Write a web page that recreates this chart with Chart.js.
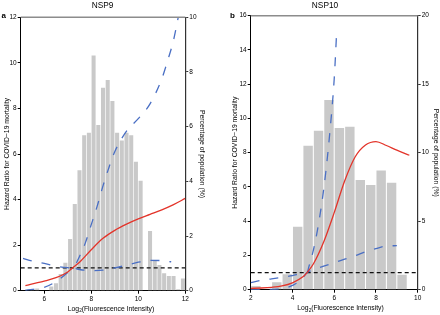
<!DOCTYPE html>
<html><head><meta charset="utf-8">
<script src="https://cdn.jsdelivr.net/npm/chart.js@4.4.1/dist/chart.umd.min.js"></script>
<style>
html,body{margin:0;padding:0;background:#fff;width:440px;height:315px;overflow:hidden}
.p{position:absolute;top:0;width:220px;height:315px}
canvas{display:block}
</style></head><body>
<div class="p" style="left:0"><canvas id="c1" width="220" height="315"></canvas></div>
<div class="p" style="left:220px"><canvas id="c2" width="220" height="315"></canvas></div>
<script>
// ---------- DATA ----------
const X_TITLE_PARTS = ['Log', '2', '(Fluorescence Intensity)'];
const HR_TITLE = 'Hazard Ratio for COVID\u221219 mortality';
const PCT_TITLE = 'Percentage of population (%)';
const REF_HR = 1;

// NSP9 (panel a)
const nsp9XTicks = [6, 8, 10, 12];
const nsp9HrTicks = [0, 2, 4, 6, 8, 10, 12];
const nsp9PctTicks = [0, 2, 4, 6, 8, 10];
const nsp9Bins = [5.5,5.7,5.9,6.1,6.3,6.5,6.7,6.9,7.1,7.3,7.5,7.7,7.9,8.1,8.3,8.5,8.7,8.9,9.1,9.3,9.5,9.7,9.9,10.1,10.3,10.5,10.7,10.9,11.1,11.3,11.5,11.7,11.9];
const nsp9Pct  = [0.05,0.08,0,0,0.15,0.27,0.61,1.02,1.89,3.17,4.41,5.69,5.78,8.6,6.06,7.42,7.71,6.94,5.78,5.49,5.78,5.69,4.72,4.02,0,2.18,1.12,0.94,0.64,0.54,0.54,0.05,0.45];
const nsp9HrX  = [5.2,5.5,6,6.5,7,7.2,7.5,8,8.5,9,9.5,10,10.5,11,11.5,12];
const nsp9Hr   = [0.22,0.3,0.42,0.57,0.82,1.0,1.25,1.8,2.3,2.65,2.92,3.15,3.35,3.55,3.78,4.05];
const nsp9UpX  = [5.1,5.5,6,6.5,7,7.2,7.5,7.75,8,8.25,8.5,8.75,9,9.5,10,10.5,11,11.25,11.5,11.7];
const nsp9Up   = [1.42,1.3,1.2,1.08,1.01,1.0,1.5,2.1,2.9,3.7,4.6,5.4,6.1,7.0,7.55,8.2,9.3,10.1,11.0,12.0];
const nsp9LoX  = [5.2,5.5,6,6.5,7,7.2,7.5,8,8.5,9,9.5,10,10.5,11,11.4];
const nsp9Lo   = [0.02,0.06,0.15,0.4,0.8,1.0,0.93,0.88,0.9,1.0,1.12,1.25,1.33,1.32,1.27];

// NSP10 (panel b)
const nsp10XTicks = [2, 4, 6, 8, 10];
const nsp10HrTicks = [0, 2, 4, 6, 8, 10, 12, 14, 16];
const nsp10PctTicks = [0, 5, 10, 15, 20];
const nsp10Bins = [2.25,2.75,3.25,3.75,4.25,4.75,5.25,5.75,6.25,6.75,7.25,7.75,8.25,8.75,9.25];
const nsp10Pct  = [0.27,0,0.54,1.12,4.6,10.5,11.6,13.85,11.8,11.9,8.0,7.65,8.7,7.8,1.1];
const nsp10HrX  = [2,2.5,3,3.5,4,4.5,4.7,5,5.5,6,6.5,7,7.5,8,8.5,9,9.6];
const nsp10Hr   = [0.08,0.1,0.14,0.22,0.4,0.75,1.0,1.5,2.8,4.5,6.35,7.75,8.45,8.65,8.42,8.15,7.85];
const nsp10UpX  = [2,2.5,3,3.5,4,4.5,4.7,4.8,5,5.2,5.4,5.6,5.8,6,6.12];
const nsp10Up   = [0.41,0.55,0.63,0.72,0.82,0.95,1.0,1.4,2.3,3.5,5.0,6.9,9.3,12.3,15.1];
const nsp10LoX  = [2,2.5,3,3.5,3.75,4,4.25,4.5,4.7,5,5.25,5.5,6,6.5,7,7.5,8,8.5,9];
const nsp10Lo   = [0.0,0.01,0.02,0.05,0.12,0.25,0.42,0.7,1.0,1.15,1.27,1.37,1.58,1.78,1.98,2.22,2.4,2.55,2.57];

// ---------- STYLE ----------
const FAM = '"Liberation Sans", Arial, Helvetica, sans-serif';
const RED = '#e3342a', BLUE = '#4a6fc4', GRAY = '#c9c9c9';
const tickFont = {family: FAM, size: 6.5};
const titleFont = {family: FAM, size: 6.8};

const deco = {
  id: 'deco',
  afterDraw(chart, args, o) {
    const {ctx, chartArea: a} = chart;
    ctx.save();
    ctx.strokeStyle = '#8c8c8c'; ctx.lineWidth = 1.5;
    ctx.beginPath(); ctx.moveTo(a.left, a.top); ctx.lineTo(a.right, a.top); ctx.stroke();
    ctx.fillStyle = '#000';
    ctx.textBaseline = 'middle';
    ctx.font = 'bold 8px ' + FAM; ctx.textAlign = 'left';
    ctx.fillText(o.letter, o.lx, o.ly);
    ctx.font = '8.3px ' + FAM; ctx.textAlign = 'center';
    ctx.fillText(o.title, o.tx, o.ty);
    // x-axis title with subscript
    const big = '6.8px ' + FAM, small = '4.6px ' + FAM;
    ctx.textAlign = 'left'; ctx.textBaseline = 'alphabetic';
    ctx.font = big; const w0 = ctx.measureText(X_TITLE_PARTS[0]).width;
    const w2 = ctx.measureText(X_TITLE_PARTS[2]).width;
    ctx.font = small; const w1 = ctx.measureText(X_TITLE_PARTS[1]).width;
    let x = o.xtx - (w0 + w1 + w2) / 2;
    ctx.font = big; ctx.fillText(X_TITLE_PARTS[0], x, o.xty); x += w0;
    ctx.font = small; ctx.fillText(X_TITLE_PARTS[1], x, o.xty + 1.6); x += w1;
    ctx.font = big; ctx.fillText(X_TITLE_PARTS[2], x, o.xty);
    ctx.restore();
  }
};

function pts(xs, ys) { return xs.map((x, i) => ({x: x, y: ys[i]})); }
function setTicks(arr) { return s => { s.ticks = arr.map(v => ({value: v})); }; }

function panel(id, p) {
  const lineDs = (xs, ys, color, dash) => ({
    type: 'line', data: pts(xs, ys), yAxisID: 'y', borderColor: color, borderWidth: 1.3,
    borderDash: dash, pointRadius: 0, cubicInterpolationMode: 'monotone', fill: false, order: 1
  });
  return new Chart(document.getElementById(id), {
    type: 'bar',
    data: {datasets: [
      lineDs(p.hrX, p.hr, RED, []),
      lineDs(p.upX, p.up, BLUE, [9, 10]),
      lineDs(p.loX, p.lo, BLUE, [9, 10]),
      {type: 'line', data: pts([p.xMin, p.xMax], [REF_HR, REF_HR]), yAxisID: 'y', borderColor: '#111',
       borderWidth: 1.3, borderDash: [4, 3], pointRadius: 0, order: 2},
      {type: 'bar', data: pts(p.bins, p.pct), yAxisID: 'y2', backgroundColor: GRAY,
       barPercentage: p.barPct, categoryPercentage: 1, order: 10}
    ]},
    options: {
      responsive: false, animation: false, devicePixelRatio: 1,
      layout: {padding: {top: p.top, left: 0, right: 0, bottom: 0}},
      plugins: {legend: {display: false}, tooltip: {enabled: false}, title: {display: false},
        deco: {letter: p.letter, lx: p.lx, ly: p.ly, title: p.title, tx: p.tx, ty: p.ty, xtx: p.xtx, xty: p.xty}},
      scales: {
        x: {type: 'linear', min: p.xMin, max: p.xMax, offset: false,
          afterBuildTicks: setTicks(p.xTicks), afterFit: s => { s.height = p.xH; },
          grid: {drawOnChartArea: false, offset: false, tickLength: 3, color: '#000'},
          border: {color: '#000', width: 1},
          ticks: {font: tickFont, color: '#000', padding: 1.5, maxRotation: 0, autoSkip: false},
          title: {display: false}},
        y: {position: 'left', min: 0, max: p.yMax,
          afterBuildTicks: setTicks(p.yTicks), afterFit: s => { s.width = p.yW; },
          grid: {drawOnChartArea: false, tickLength: 3, color: '#000'},
          border: {color: '#000', width: 1},
          ticks: {font: tickFont, color: '#000', padding: 1, autoSkip: false},
          title: {display: true, text: HR_TITLE, font: titleFont, color: '#000', padding: {top: p.ytPad, bottom: 0}}},
        y2: {position: 'right', min: 0, max: p.y2Max,
          afterBuildTicks: setTicks(p.y2Ticks), afterFit: s => { s.width = p.y2W; },
          grid: {drawOnChartArea: false, tickLength: 3, color: '#333'},
          border: {color: '#333', width: 1.2},
          ticks: {font: tickFont, color: '#000', padding: 1, autoSkip: false},
          title: {display: true, text: PCT_TITLE, font: titleFont, color: '#000', padding: {top: p.y2tPad, bottom: 0}}}
      }
    },
    plugins: [deco]
  });
}

panel('c1', {
  letter: 'a', lx: 1.5, ly: 15.5, title: 'NSP9', tx: 102.5, ty: 5.5, xtx: 111, xty: 310.5,
  top: 17.3, xH: 24.3, yW: 20.7, y2W: 34.7, ytPad: 3, y2tPad: 14,
  xMin: 5, xMax: 12, yMax: 12, y2Max: 10, barPct: 0.86,
  xTicks: nsp9XTicks, yTicks: nsp9HrTicks, y2Ticks: nsp9PctTicks,
  bins: nsp9Bins, pct: nsp9Pct, hrX: nsp9HrX, hr: nsp9Hr, upX: nsp9UpX, up: nsp9Up, loX: nsp9LoX, lo: nsp9Lo
});
panel('c2', {
  letter: 'b', lx: 10, ly: 15.5, title: 'NSP10', tx: 105, ty: 5.5, xtx: 120.5, xty: 310,
  top: 15.7, xH: 25.3, yW: 30.7, y2W: 22.3, ytPad: 11, y2tPad: 0.5,
  xMin: 2, xMax: 10, yMax: 16, y2Max: 20, barPct: 0.9,
  xTicks: nsp10XTicks, yTicks: nsp10HrTicks, y2Ticks: nsp10PctTicks,
  bins: nsp10Bins, pct: nsp10Pct, hrX: nsp10HrX, hr: nsp10Hr, upX: nsp10UpX, up: nsp10Up, loX: nsp10LoX, lo: nsp10Lo
});
</script>
</body></html>
